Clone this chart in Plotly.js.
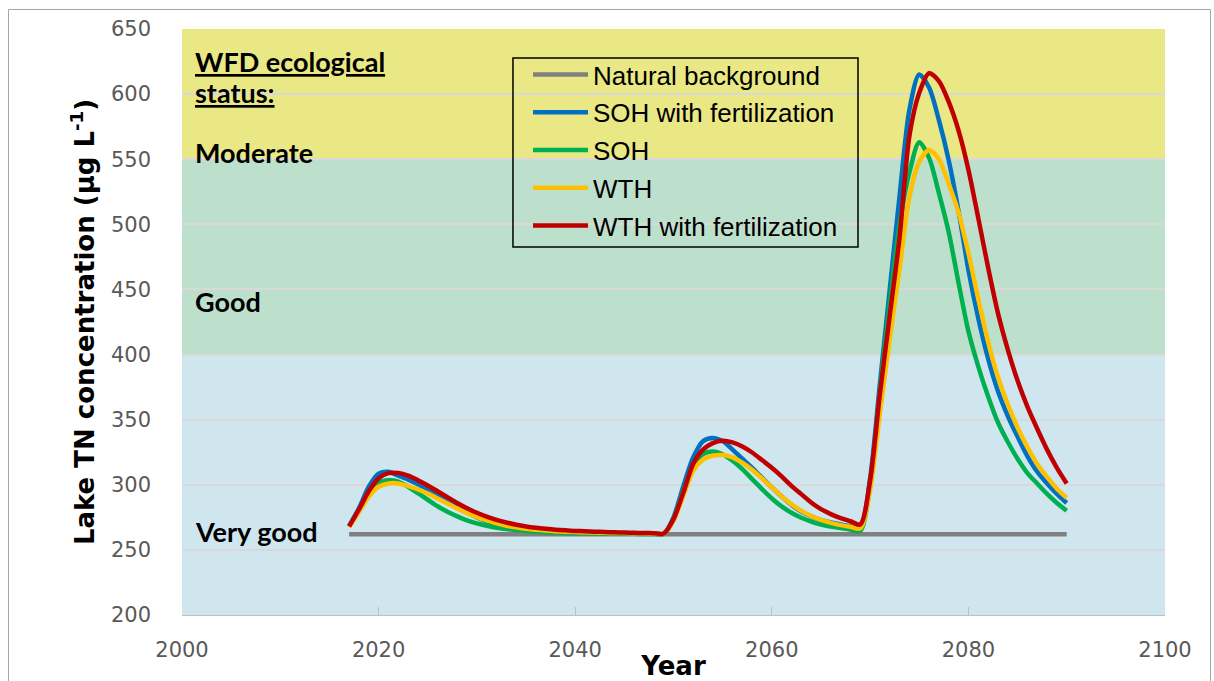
<!DOCTYPE html>
<html>
<head>
<meta charset="utf-8">
<script src="https://cdn.plot.ly/plotly-3.0.1.min.js"></script>
<style>html,body{margin:0;padding:0;background:#fff;}#chart{width:1214px;height:681px;}</style>
</head>
<body>
<div id="chart"></div>
<script>
// ---- data ----
const years = [2017,2018,2019,2020,2021,2022,2023,2024,2025,2026,2027,2028,2029,2030,2031,2032,2033,2034,2035,2036,2037,2038,2039,2040,2041,2042,2043,2044,2045,2046,2047,2048,2049,2050,2051,2052,2053,2054,2055,2056,2057,2058,2059,2060,2061,2062,2063,2064,2065,2066,2067,2068,2069,2070,2071,2072,2073,2074,2075,2076,2077,2078,2079,2080,2081,2082,2083,2084,2085,2086,2087,2088,2089,2090];

const naturalBackground = [262,262,262,262,262,262,262,262,262,262,262,262,262,262,262,262,262,262,262,262,262,262,262,262,262,262,262,262,262,262,262,262,262,262,262,262,262,262,262,262,262,262,262,262,262,262,262,262,262,262,262,262,262,262,262,262,262,262,262,262,262,262,262,262,262,262,262,262,262,262,262,262,262,262];

const sohFert = [268.5,282,298.5,308.5,310,307,304,300.5,296.5,292,288,282.5,278.5,275,272,269.8,268.2,267,266,265.2,264.8,264.3,263.9,263.6,263.4,263.2,263,262.9,262.8,262.7,262.6,262.5,262.3,
  275,299,321,333.5,336,333.5,327,320,313,305.5,298,291,284.5,279.5,275.8,273,271,269.5,268.2,267.2,
  305,378,450,522,588,615,605,580,549,510,465,428,397,372,353,337,322,310,301,293,286];

const soh = [268,280,293,301.5,303.5,302.5,298.5,293.5,288.5,283.5,279.3,275.7,272.6,270.3,268.5,267,266,265.2,264.5,264,263.6,263.3,263,262.8,262.7,262.6,262.5,262.4,262.3,262.3,262.2,262.2,262.1,
  273.6,295,314.6,323.5,325.6,323.5,318.4,312,304.4,296.7,289.5,283.4,278.5,274.7,271.8,269.5,268,266.7,265.6,264.6,
  300,372,440,500,540,563,551,524,494,455,418,391,368,348,333,320,309,301,293,286,280];

const wth = [267.5,279,291,298.5,301,301,299,296.5,293.3,289.5,285.7,281.8,278.2,275.2,272.6,270.3,268.6,267.3,266.3,265.5,264.9,264.4,264,263.7,263.5,263.3,263.1,263,262.9,262.8,262.7,262.6,262.4,
  272.3,291.5,310.8,319.2,322.3,322.8,321,317,311.5,304.9,298,291,285,280,276,273,270.8,269,267.7,266.5,
  296,355,412,466,521,548,557,550,531,509,478,443,410,383,362,344,329,316,306,297,290];

const wthFert = [268,281,295,305,309,309,307,303.5,299.5,295,290.5,286,282,278.5,275.5,273,271,269.3,268,267,266.2,265.5,265,264.6,264.3,264,263.7,263.5,263.3,263.1,263,262.8,262.5,
  273.6,294,316,327,332,333.8,332.5,329.4,324.8,319,313,306.4,299.2,292.8,286.4,281.3,277.5,274.4,272,269.5,
  303,370,430,490,568,601,616,610,594,572,542,505,467,432,404,380,360,343,327,313,301];

const seriesNames = ["Natural background","SOH with fertilization","SOH","WTH","WTH with fertilization"];
const seriesColors = ["#808080","#0070c0","#00b050","#ffc000","#c00000"];
const seriesValues = [naturalBackground, sohFert, soh, wth, wthFert];

// WFD status bands (lower, upper)
const bandNames = ["Very good","Good","Moderate"];
const bandLimits = [[200,400],[400,550],[550,650]];
const bandColors = ["#cfe6ef","#bde0cc","#e9e884"];
const bandLabelValues = [264.5, 440.5, 555];

const xTicks = [2000,2020,2040,2060,2080,2100];

// ---- traces ----
const traces = seriesNames.map((name, i) => ({
  type: "scatter",
  mode: "lines",
  name: name,
  x: years,
  y: seriesValues[i],
  legendgroup: "g" + i,
  line: {color: seriesColors[i], width: 4.5, shape: i === 0 ? "linear" : "spline", smoothing: 0.8},
  hoverinfo: "x+y+name"
}));

const shapes = bandLimits.map((b, i) => ({
  type: "rect", xref: "paper", yref: "y", x0: 0, x1: 1, y0: b[0], y1: b[1],
  fillcolor: bandColors[i], line: {width: 0}, layer: "below"
}));
// legend frame
shapes.push({type: "rect", xref: "paper", yref: "paper",
  x0: 0.3367, x1: 0.6877, y0: 0.628, y1: 0.9505,
  line: {color: "#000000", width: 1.5}, fillcolor: "rgba(0,0,0,0)", layer: "above"});
// outer chart-area border
shapes.push({type: "rect", xref: "paper", yref: "paper",
  x0: -0.1765, x1: 1.0463, y0: -0.2, y1: 1.0333,
  line: {color: "#a6a6a6", width: 1}, fillcolor: "rgba(0,0,0,0)", layer: "above"});

const labelFont = {family: "Lato, 'Open Sans', sans-serif", size: 27, color: "#000"};
const annotations = bandNames.map((n, i) => ({
  xref: "paper", yref: "y", x: 0.011, y: bandLabelValues[i], xanchor: "left", yanchor: "middle",
  text: "<b>" + n + "</b>", showarrow: false, font: labelFont
}));
annotations.push({xref: "paper", yref: "y", x: 0.011, y: 625, xanchor: "left", yanchor: "middle",
  text: "<b><u>WFD ecological</u></b>", showarrow: false, font: labelFont});
annotations.push({xref: "paper", yref: "y", x: 0.011, y: 601, xanchor: "left", yanchor: "middle",
  text: "<b><u>status:</u></b>", showarrow: false, font: labelFont});

const layout = {
  width: 1214, height: 681,
  margin: {l: 182, r: 49, t: 29, b: 66, pad: 0},
  paper_bgcolor: "#ffffff", plot_bgcolor: "rgba(0,0,0,0)",
  showlegend: true,
  legend: {
    x: 0.352, y: 0.9625, xanchor: "left", yanchor: "top",
    bgcolor: "rgba(0,0,0,0)", borderwidth: 0,
    font: {family: "'Liberation Sans', Arial, sans-serif", size: 26, color: "#000"},
    traceorder: "grouped", tracegroupgap: 1, itemwidth: 55
  },
  xaxis: {
    range: [2000, 2100], tickvals: xTicks, ticktext: xTicks.map(String),
    showgrid: false, zeroline: false,
    showline: true, linecolor: "#bfbfbf", linewidth: 1,
    ticks: "inside", ticklen: 8, tickcolor: "#bfbfbf",
    ticklabelstandoff: 16,
    tickfont: {family: "'DejaVu Sans', Verdana, sans-serif", size: 21, color: "#595959"},
    title: {text: "<b>Year</b>", standoff: 0,
      font: {family: "'DejaVu Sans', Verdana, sans-serif", size: 26, color: "#000"}}
  },
  yaxis: {
    range: [200, 650], dtick: 50, tick0: 200,
    showgrid: true, gridcolor: "#d9d9d9", gridwidth: 1.5,
    zeroline: false, showline: false, ticks: "",
    ticklabelstandoff: 30,
    tickfont: {family: "'DejaVu Sans', Verdana, sans-serif", size: 21, color: "#595959"},
    title: {text: "<b>Lake TN concentration (µg L<sup>-1</sup>)</b>", standoff: 8,
      font: {family: "'DejaVu Sans', Verdana, sans-serif", size: 26, color: "#000"}}
  },
  shapes: shapes,
  annotations: annotations
};

Plotly.newPlot("chart", traces, layout, {displayModeBar: false, responsive: false});
</script>
</body>
</html>
